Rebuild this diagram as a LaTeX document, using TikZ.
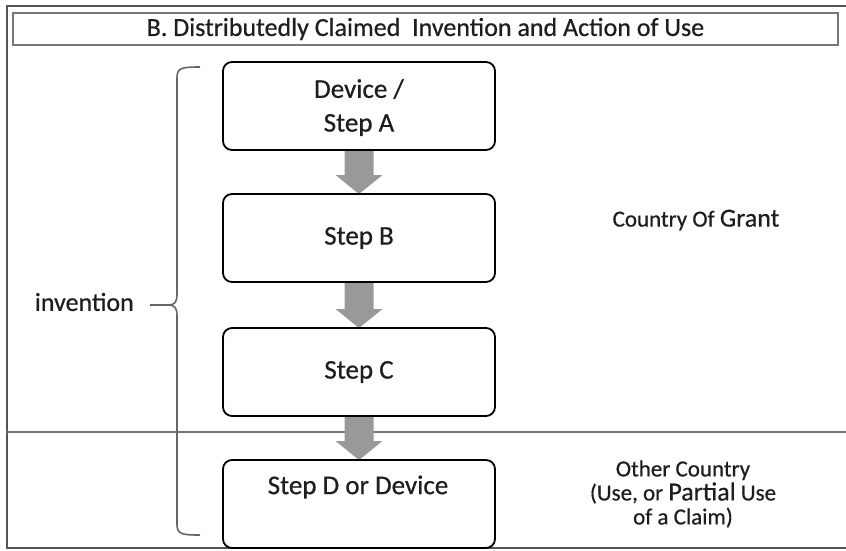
\documentclass[tikz,border=0pt]{standalone}
\usepackage{fontspec}
\setmainfont[FakeBold=0.6,AutoFakeBold=0.6]{Carlito}
\newfontfamily\heavyfont[FakeBold=0.6]{Carlito}
\usetikzlibrary{calc}
\definecolor{framegray}{HTML}{555555}
\definecolor{arrowgray}{HTML}{999999}
\definecolor{txt}{HTML}{1E1E1E}
\tikzset{
  stepbox/.style={draw=black, line width=1.8pt, rounded corners=9pt, fill=white,
    minimum width=272pt, minimum height=88pt, inner sep=0pt},
  boxtext/.style={text=txt, font=\heavyfont\fontsize{27}{30}\selectfont, inner sep=0pt},
  sidetext/.style={text=txt, font=\heavyfont\fontsize{23}{24}\selectfont, align=center},
}
\begin{document}
\begin{tikzpicture}[x=1pt,y=-1pt]
\useasboundingbox (0,0) rectangle (846,550);
% outer frame
\draw[framegray, line width=2.5pt] (846,6) -- (7,6) -- (7,548) -- (846,548);
% title
\node[draw=framegray!80, line width=2pt, minimum width=825pt, minimum height=32pt, inner sep=0pt,
  text=txt, font=\heavyfont\fontsize{26}{28}\selectfont] (title) at (425.5,29) {B. Distributedly Claimed \ Invention and Action of Use};
% divider line
\draw[framegray!80, line width=1.5pt] (7,432) -- (846,432);
% box positions
\path (359,106) coordinate (pA) (359,238) coordinate (pB) (359,372) coordinate (pC) (359,504) coordinate (pD);
% arrows
\foreach \a/\b in {pA/pB,pB/pC,pC/pD}{
  \path ($(\a)+(0,44)$) coordinate (s) ($(\b)+(0,-44)$) coordinate (t);
  \fill[arrowgray] ($(s)+(-14.5,0)$) -- ($(t)+(-14.5,-19)$) -- ($(t)+(-23.5,-19)$) -- (t)
    -- ($(t)+(23.5,-19)$) -- ($(t)+(14.5,-19)$) -- ($(s)+(14.5,0)$) -- cycle;
}
\node[stepbox] (A) at (pA) {};
\node[boxtext] (At1) at (359,89) {Device /};
\node[boxtext] (At2) at (359,125) {Step A};
\node[stepbox] (B) at (pB) {};
\node[boxtext] (Bt) at (359,238) {Step B};
\node[stepbox] (C) at (pC) {};
\node[boxtext] (Ct) at (359,372) {Step C};
\node[stepbox] (D) at (pD) {};
\node[boxtext] (Dt) at (358,487) {Step D or Device};
% brace
\draw[framegray!90, line width=1.6pt] (200,67) .. controls (181,67) and (177,68) .. (177,78) -- (177,294)
  .. controls (177,302) and (175,305) .. (168,305) coordinate (tip)
  .. controls (175,305) and (177,308) .. (177,316) -- (177,524)
  .. controls (177,534) and (181,535) .. (200,535);
\coordinate (dashL) at (150,305);
\draw[framegray!90, line width=1.6pt] (dashL) -- (tip);
\node[text=txt, font=\heavyfont\fontsize{26}{28}\selectfont, anchor=east, inner sep=0pt] (inv) at (134,302) {invention};
% side texts
\node[sidetext] (grant) at (696,220) {Country Of {\fontsize{26}{28}\selectfont Grant}};
\node[sidetext, align=center] (other) at (683,494) {Other Country\\(Use, or {\fontsize{26}{28}\selectfont Partial} Use\\of a Claim)};
\end{tikzpicture}
\end{document}
